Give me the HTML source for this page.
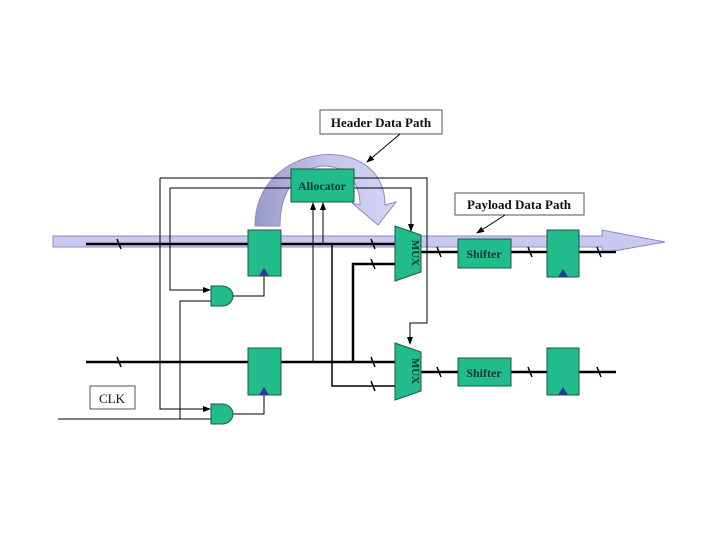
<!DOCTYPE html>
<html><head><meta charset="utf-8"><style>
html,body{margin:0;padding:0;background:#fff;}
svg{display:block;}
text{font-family:"Liberation Serif",serif;}
</style></head><body>
<svg width="720" height="540" viewBox="0 0 720 540" xmlns="http://www.w3.org/2000/svg">
<defs>
<marker id="ar" markerWidth="8" markerHeight="8" refX="7" refY="4" orient="auto" markerUnits="userSpaceOnUse"><path d="M0,1 L8,4 L0,7z" fill="#000"/></marker>
<linearGradient id="hg" x1="0" x2="1" y1="0" y2="0"><stop offset="0" stop-color="#9a9ac8"/><stop offset="0.5" stop-color="#c4c4ec"/><stop offset="1" stop-color="#d4d4f4"/></linearGradient>
</defs>
<!-- payload band -->
<path d="M53,236 L602,236 L602,230 L665,242 L602,253 L602,247 L53,247z" fill="#c8c8f0" stroke="#8c8cc0" stroke-width="1"/>
<!-- header arc arrow -->
<path d="M255,226 C255,140 385,130 385,205 L396,202 L378,225 L352,203 L360,205 C360,150 280,150 280,226z" fill="url(#hg)" stroke="#8c8cc0" stroke-width="1"/>
<!-- thin control lines -->
<g fill="none" stroke="#000" stroke-width="1">
<path d="M160,178 L427,178 L427,323 L410,323 L410,344" marker-end="url(#ar)"/>
<path d="M160,178 L160,409 L210,409" marker-end="url(#ar)"/>
<path d="M170,188 L411,188 L411,231" marker-end="url(#ar)"/>
<path d="M170,188 L170,290 L210,290" marker-end="url(#ar)"/>
<path d="M233,296 L264,296 L264,276"/>
<path d="M233,414 L264,414 L264,395"/>
<path d="M211,301 L180,301 L180,419"/>
<path d="M58,419 L211,419"/>
<path d="M313,362 L313,203" marker-end="url(#ar)"/>
<path d="M323,244 L323,203" marker-end="url(#ar)"/>
</g>
<!-- thick data lines -->
<g fill="none" stroke="#000" stroke-width="2.5">
<path d="M86,244 L248,244"/><path d="M281,244 L395,244"/>
<path d="M86,362 L248,362"/><path d="M281,362 L395,362"/>
<path d="M353,362 L353,264 L395,264"/>
<path d="M421,252 L458,252"/><path d="M511,252 L547,252"/><path d="M579,252 L616,252"/>
<path d="M421,372 L458,372"/><path d="M511,372 L547,372"/><path d="M579,372 L616,372"/>
</g>
<path d="M332,244 L332,386 L395,386" fill="none" stroke="#000" stroke-width="1.5"/>
<!-- slashes -->
<g stroke="#000" stroke-width="1.5">
<path d="M117,239 L121,249"/><path d="M371,239 L375,249"/><path d="M371,259 L375,269"/>
<path d="M117,357 L121,367"/><path d="M371,357 L375,367"/><path d="M371,381 L375,391"/>
<path d="M437,247 L441,257"/><path d="M528,247 L532,257"/><path d="M597,247 L601,257"/>
<path d="M437,367 L441,377"/><path d="M528,367 L532,377"/><path d="M597,367 L601,377"/>
</g>
<!-- registers -->
<g fill="#22bb8c" stroke="#1a5a40" stroke-width="1">
<rect x="248" y="230" width="33" height="46"/>
<rect x="248" y="348" width="33" height="47"/>
<rect x="547" y="230" width="32" height="47"/>
<rect x="547" y="348" width="32" height="47"/>
<rect x="291" y="169" width="63" height="33"/>
<rect x="458" y="239" width="53" height="29"/>
<rect x="458" y="358" width="53" height="28"/>
<path d="M395,226 L421,235 L421,272 L395,281z"/>
<path d="M395,343 L421,352 L421,391 L395,400z"/>
<path d="M211,286 L222,286 A11,10 0 0 1 222,306 L211,306z"/>
<path d="M211,404 L222,404 A11,10 0 0 1 222,424 L211,424z"/>
</g>
<g fill="#2a3a9a">
<path d="M259,276 L264,268 L269,276z"/><path d="M259,395 L264,387 L269,395z"/>
<path d="M558,277 L563,269 L568,277z"/><path d="M558,395 L563,387 L568,395z"/>
</g>
<!-- labels -->
<g fill="#0e3a2a" font-weight="bold" font-size="12">
<text x="322" y="190" text-anchor="middle">Allocator</text>
<text x="484" y="258" text-anchor="middle">Shifter</text>
<text x="484" y="377" text-anchor="middle">Shifter</text>
<text transform="translate(412,253) rotate(90)" text-anchor="middle" font-size="11">MUX</text>
<text transform="translate(412,371) rotate(90)" text-anchor="middle" font-size="11">MUX</text>
</g>
<rect x="320" y="110" width="122" height="24" fill="#fff" stroke="#555"/>
<text x="381" y="127" text-anchor="middle" font-size="13" font-weight="bold" fill="#111">Header Data Path</text>
<path d="M400,134 L367,162" stroke="#000" stroke-width="1" marker-end="url(#ar)"/>
<rect x="455" y="193" width="129" height="22" fill="#fff" stroke="#555"/>
<text x="519" y="209" text-anchor="middle" font-size="13" font-weight="bold" fill="#111">Payload Data Path</text>
<path d="M505,215 L477,233" stroke="#000" stroke-width="1" marker-end="url(#ar)"/>
<rect x="90" y="386" width="45" height="23" fill="#fff" stroke="#555"/>
<text x="112" y="403" text-anchor="middle" font-size="13" fill="#111">CLK</text>
</svg>
</body></html>
